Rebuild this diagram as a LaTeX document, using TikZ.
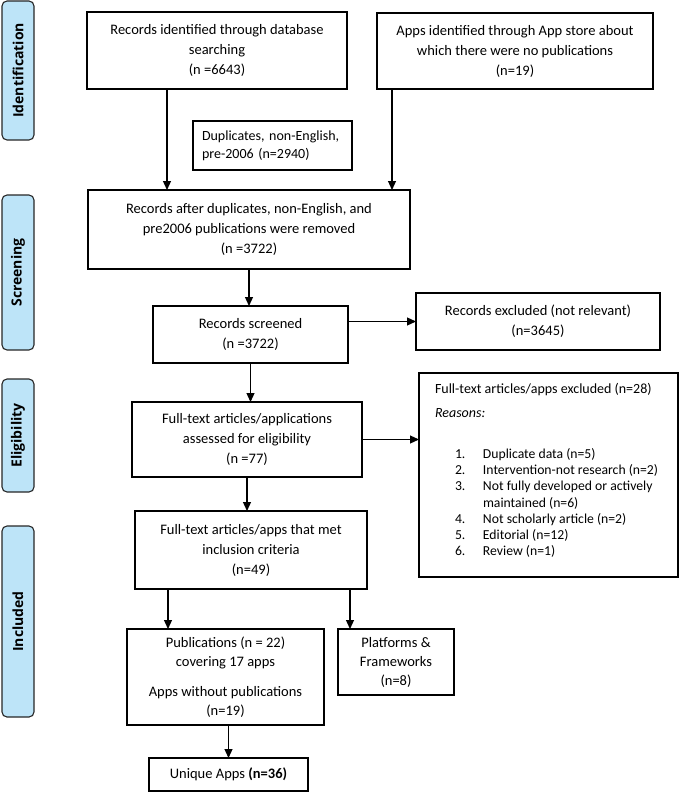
\documentclass[tikz,border=0pt]{standalone}
\usepackage{fontspec}
\setmainfont{Carlito}
\newfontfamily\phasefont{Open Sans}
\usetikzlibrary{arrows.meta}
\definecolor{phaseblue}{RGB}{189,228,248}

\begin{document}
\begin{tikzpicture}[x=1pt, y=-1pt,
  box/.style={draw, line width=1.3pt, inner sep=0pt, outer sep=0pt, align=center, font=\fontsize{14.5}{20}\selectfont},
  phase/.style={draw=black!85, line width=1.1pt, fill=phaseblue, rounded corners=5pt, rotate=90, minimum height=32pt, inner sep=0pt, font=\phasefont\bfseries\fontsize{14}{16}\selectfont},
  arr/.style={-{Triangle[length=9pt,width=8pt]}, line width=1.2pt}]
  \useasboundingbox (0,0) rectangle (680,792);
  % phase labels on the left
  \node[phase, minimum width=139pt] (ident) at (18,70.5) {Identification};
  \node[phase, minimum width=155pt] (screen) at (18,272.5) {Screening};
  \node[phase, minimum width=113pt] (elig) at (18,435.5) {Eligibility};
  \node[phase, minimum width=191pt] (incl) at (18,621.5) {Included};
  % boxes
  \node[box, minimum width=260pt, minimum height=77pt] (db) at (217,50.5) {Records identified through database\\searching\\(n =6643)};
  \node[box, minimum width=276pt, minimum height=76pt] (apps) at (515,51) {Apps identified through App store about\\which there were no publications\\(n=19)};
  \node[box, minimum width=159pt, minimum height=49pt, text width=141pt, align=left, font=\fontsize{14}{18}\selectfont] (dups) at (272.5,145.5) {Duplicates, non-English,\\pre-2006 (n=2940)};
  \node[box, minimum width=322pt, minimum height=79pt] (after) at (249,229.5) {Records after duplicates, non-English, and\\pre2006 publications were removed\\(n =3722)};
  \node[box, minimum width=195pt, minimum height=57pt] (screened) at (250.5,334.5) {Records screened\\(n =3722)};
  \node[box, minimum width=244pt, minimum height=57pt] (excl) at (538,321.5) {Records excluded (not relevant)\\(n=3645)};
  \node[box, minimum width=230pt, minimum height=75pt] (fulltext) at (247,439.5) {Full-text articles/applications\\assessed for eligibility\\(n =77)};
  \node[box, minimum width=259pt, minimum height=204pt] (excl2) at (548.5,475) {%
    \parbox[c][190pt][t]{227pt}{\fontsize{14}{17}\selectfont
      \vspace*{3pt}Full-text articles/apps excluded (n=28)\par\vspace{7pt}
      \textit{Reasons:}\par\vspace{25pt}
      \fontsize{13.7}{16.2}\selectfont
      \hspace*{20pt}\makebox[28pt][l]{1.}Duplicate data (n=5)\par
      \hspace*{20pt}\makebox[28pt][l]{2.}Intervention-not research (n=2)\par
      \hspace*{20pt}\makebox[28pt][l]{3.}Not fully developed or actively\par
      \hspace*{48pt}maintained (n=6)\par
      \hspace*{20pt}\makebox[28pt][l]{4.}Not scholarly article (n=2)\par
      \hspace*{20pt}\makebox[28pt][l]{5.}Editorial (n=12)\par
      \hspace*{20pt}\makebox[28pt][l]{6.}Review (n=1)}};
  \node[box, minimum width=232pt, minimum height=78pt] (met) at (251,550) {Full-text articles/apps that met\\inclusion criteria\\(n=49)};
  \node[box, minimum width=197pt, minimum height=96pt, font=\fontsize{14.5}{19}\selectfont] (pubs) at (225.5,677) {Publications (n = 22)\\covering 17 apps\\[11pt]Apps without publications\\(n=19)};
  \node[box, minimum width=116pt, minimum height=66pt, font=\fontsize{14.5}{19}\selectfont] (platf) at (396,662) {Platforms \&\\Frameworks\\(n=8)};
  \node[box, minimum width=159pt, minimum height=33pt] (unique) at (228.5,774.5) {Unique Apps \textbf{(n=36)}};
  % connectors
  \draw[arr] ([xshift=-50pt]db.south) -- ([xshift=-50pt]db.south |- after.north);
  \draw[arr] ([xshift=-123pt]apps.south) -- ([xshift=-123pt]apps.south |- after.north);
  \draw[arr] (after.south) -- (after.south |- screened.north);
  \draw[arr] (excl.west -| screened.east) -- (excl.west);
  \draw[arr] (screened.south) -- (screened.south |- fulltext.north);
  \draw[arr] (fulltext.east) -- (fulltext.east -| excl2.west);
  \draw[arr] (fulltext.south) -- (fulltext.south |- met.north);
  \draw[arr] ([xshift=-83pt]met.south) -- ([xshift=-83pt]met.south |- pubs.north);
  \draw[arr] ([xshift=99pt]met.south) -- ([xshift=99pt]met.south |- platf.north);
  \draw[arr] (unique.north |- pubs.south) -- (unique.north);
\end{tikzpicture}
\end{document}
